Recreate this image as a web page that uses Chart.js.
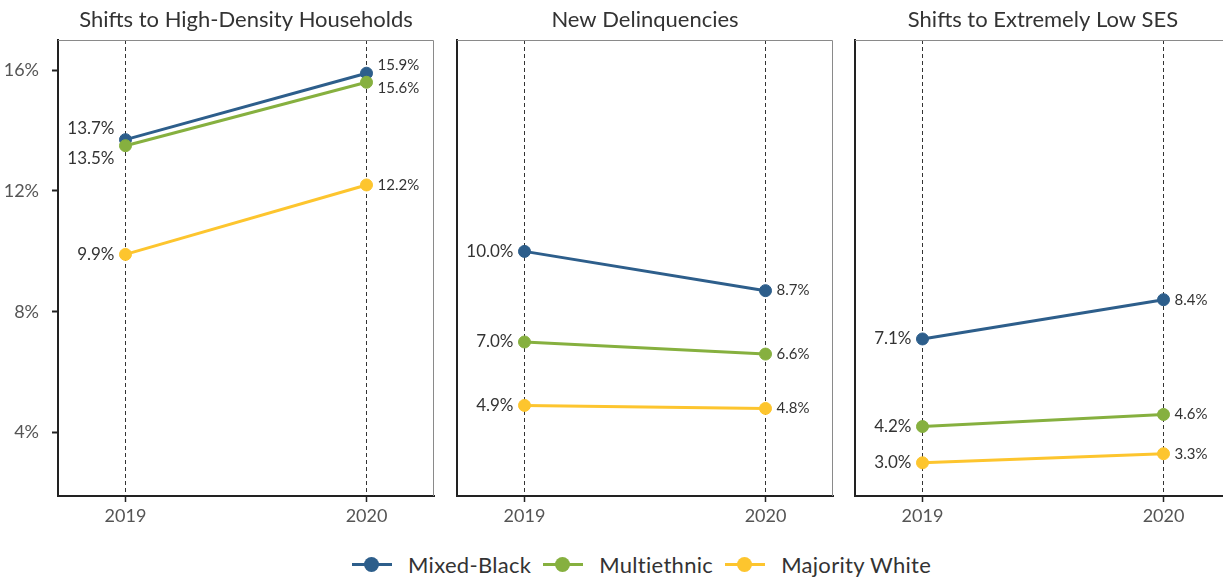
<!DOCTYPE html>
<html>
<head>
<meta charset="utf-8">
<script src="https://cdn.jsdelivr.net/npm/chart.js@4.4.1/dist/chart.umd.min.js"></script>
<style>
  body { margin: 0; background: #fff; overflow: hidden; font-family: Lato, sans-serif; }
  #wrap { position: relative; width: 1223px; height: 580px; overflow: hidden; }
  canvas { position: absolute; top: 0; }
  #legend { position: absolute; left: 352px; top: 551px; display: flex; align-items: center; font-size: 22px; letter-spacing: 0.3px; color: #333; }
  .item { display: flex; align-items: center; margin-right: 12px; }
  .mark { position: relative; width: 40px; height: 15px; margin-right: 16px; }
  .mark .ln { position: absolute; left: 0; right: 0; top: 6px; height: 3px; }
  .mark .dot { position: absolute; left: 12px; top: 0; width: 15px; height: 15px; border-radius: 50%; }
</style>
</head>
<body>
<div id="wrap">
  <canvas id="c1" width="436" height="530" style="left:0"></canvas>
  <canvas id="c2" width="396" height="530" style="left:440px"></canvas>
  <canvas id="c3" width="396" height="530" style="left:838px"></canvas>
  <div id="legend"></div>
</div>
<script>
const years = ['2019', '2020'];
const groups = ['Mixed-Black', 'Multiethnic', 'Majority White'];
const colors = ['#2d5e8b', '#86b03f', '#fdc52e'];
const titles = ['Shifts to High-Density Households', 'New Delinquencies', 'Shifts to Extremely Low SES'];
const yTicks = [4, 8, 12, 16];

// values in %, one array per group
const highDensity = {
  mixedBlack: [13.7, 15.9],
  multiethnic: [13.5, 15.6],
  majorityWhite: [9.9, 12.2]
};
const delinquencies = {
  mixedBlack: [10.0, 8.7],
  multiethnic: [7.0, 6.6],
  majorityWhite: [4.9, 4.8]
};
const lowSES = {
  mixedBlack: [7.1, 8.4],
  multiethnic: [4.2, 4.6],
  majorityWhite: [3.0, 3.3]
};

const textColor = '#333';
const tickColor = '#555';

// panel title + frame (top/right grey) + point labels
const panelPlugin = {
  id: 'panelStuff',
  beforeDatasetsDraw(chart, args, opts) {
    const { ctx, chartArea: a } = chart;
    ctx.save();
    ctx.strokeStyle = '#8a8a8a';
    ctx.lineWidth = 1;
    ctx.beginPath();
    ctx.moveTo(a.left, a.top + 0.5);
    ctx.lineTo(a.right - 0.5, a.top + 0.5);
    ctx.lineTo(a.right - 0.5, a.bottom);
    ctx.stroke();
    ctx.restore();
  },
  afterDraw(chart, args, opts) {
    const { ctx, chartArea: a } = chart;
    ctx.save();
    ctx.fillStyle = textColor;
    ctx.font = '22px Lato';
    ctx.textAlign = 'center';
    ctx.textBaseline = 'middle';
    ctx.fillText(opts.title, (a.left + a.right) / 2, 20);

    chart.data.datasets.forEach((ds, di) => {
      const meta = chart.getDatasetMeta(di);
      meta.data.forEach((pt, i) => {
        const shift = opts.shift[di][i];
        const txt = ds.data[i].y.toFixed(1) + '%';
        if (i === 0) {
          ctx.textAlign = 'right';
          ctx.font = '17px Lato';
          ctx.fillText(txt, pt.x - 11, pt.y + shift);
        } else {
          ctx.textAlign = 'left';
          ctx.font = '15px Lato';
          ctx.fillText(txt, pt.x + 11, pt.y + shift);
        }
      });
    });
    ctx.restore();
  }
};

function makeChart(id, panelData, title, shift, showY) {
  const series = [panelData.mixedBlack, panelData.multiethnic, panelData.majorityWhite];
  const datasets = series.map((vals, k) => ({
    label: groups[k],
    data: vals.map((v, i) => ({ x: i, y: v })),
    borderColor: colors[k],
    backgroundColor: colors[k],
    borderWidth: 3,
    pointRadius: 6,
    pointHoverRadius: 6,
    pointBorderWidth: 1,
    order: 3 - k
  }));

  return new Chart(document.getElementById(id), {
    type: 'line',
    data: { datasets: datasets },
    plugins: [panelPlugin],
    options: {
      responsive: false,
      animation: false,
      layout: {
        autoPadding: false,
        padding: { top: 40, left: showY ? 0 : 17, right: showY ? 2 : 3, bottom: 0 }
      },
      plugins: {
        legend: { display: false },
        tooltip: { enabled: false },
        panelStuff: { title: title, shift: shift }
      },
      scales: {
        x: {
          type: 'linear',
          min: -0.28,
          max: 1.28,
          afterBuildTicks: s => { s.ticks = years.map((y, i) => ({ value: i })); },
          afterFit: s => { s.height = 34; s.paddingLeft = 0; s.paddingRight = 0; },
          ticks: {
            callback: v => years[v],
            font: { family: 'Lato', size: 18 },
            color: tickColor,
            padding: 3,
            maxRotation: 0
          },
          grid: {
            color: '#333',
            lineWidth: 1,
            tickLength: 6,
            tickColor: '#222',
            tickWidth: 1.5
          },
          border: { color: '#222', width: 2, dash: [4, 3] }
        },
        y: {
          min: 1.9,
          max: 17,
          afterBuildTicks: s => { s.ticks = yTicks.map(v => ({ value: v })); },
          afterFit: s => { s.width = showY ? 58 : 0; s.paddingTop = 0; s.paddingBottom = 0; },
          ticks: {
            display: showY,
            callback: v => v + '%',
            font: { family: 'Lato', size: 18 },
            color: tickColor,
            padding: 13
          },
          grid: {
            display: showY,
            drawOnChartArea: false,
            tickLength: 6,
            tickColor: '#222',
            tickWidth: 2
          },
          border: { color: '#222', width: 2 }
        }
      }
    }
  });
}

makeChart('c1', highDensity, titles[0], [[-11, -8], [13, 6], [0, 0]], true);
makeChart('c2', delinquencies, titles[1], [[0, 0], [0, 0], [0, 0]], false);
makeChart('c3', lowSES, titles[2], [[0, 0], [0, 0], [0, 0]], false);

// legend
const legend = document.getElementById('legend');
groups.forEach((g, k) => {
  const item = document.createElement('div');
  item.className = 'item';
  item.innerHTML = '<span class="mark"><span class="ln" style="background:' + colors[k] + '"></span>' +
    '<span class="dot" style="background:' + colors[k] + '"></span></span><span>' + g + '</span>';
  legend.appendChild(item);
});
</script>
</body>
</html>
